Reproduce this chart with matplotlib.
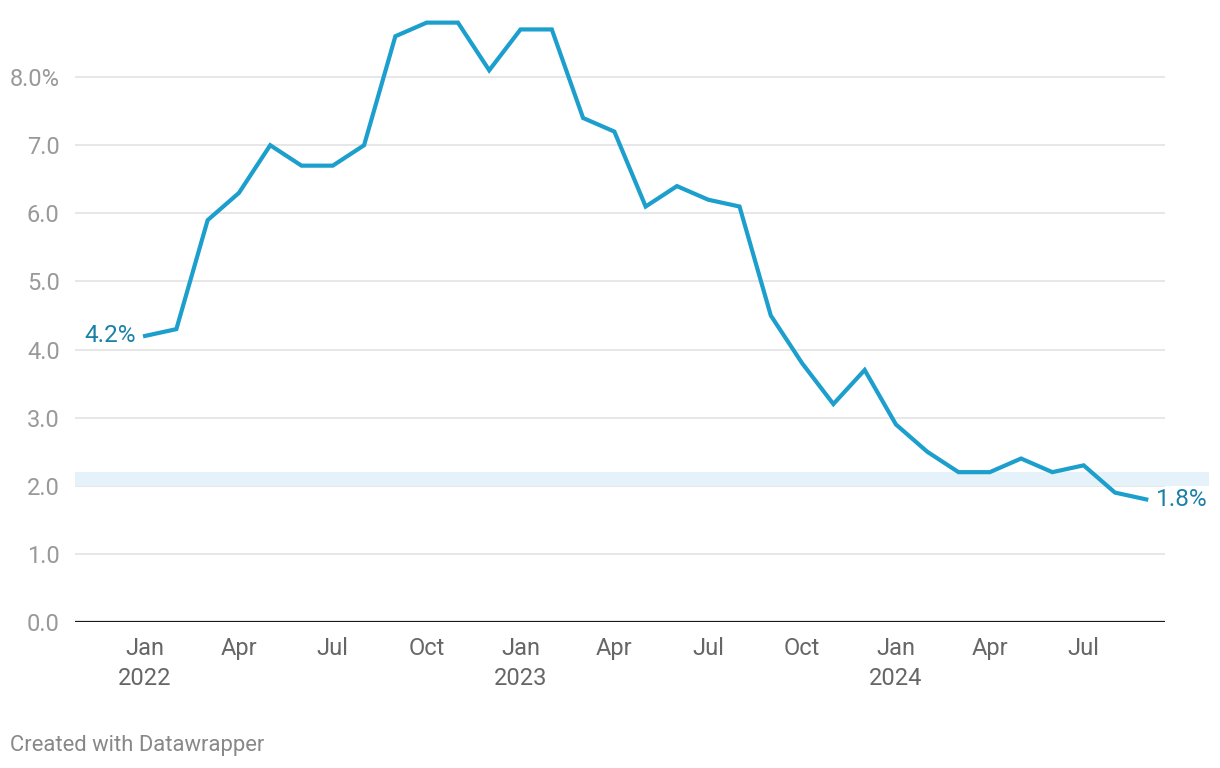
import matplotlib.pyplot as plt

plt.rcParams['font.family'] = ['Roboto', 'DejaVu Sans']

## Monthly values, Jan 2022 .. Sep 2024
months = list(range(33))
values = [4.2, 4.3, 5.9, 6.3, 7.0, 6.7, 6.7, 7.0, 8.6, 8.8, 8.8, 8.1,
          8.7, 8.7, 7.4, 7.2, 6.1, 6.4, 6.2, 6.1, 4.5, 3.8, 3.2, 3.7,
          2.9, 2.5, 2.2, 2.2, 2.4, 2.2, 2.3, 1.9, 1.8]
tick_pos = [0, 3, 6, 9, 12, 15, 18, 21, 24, 27, 30]
tick_labels = ['Jan\n2022', 'Apr', 'Jul', 'Oct', 'Jan\n2023', 'Apr', 'Jul',
               'Oct', 'Jan\n2024', 'Apr', 'Jul']
y_ticks = [0, 1, 2, 3, 4, 5, 6, 7, 8]
y_labels = ['0.0', '1.0', '2.0', '3.0', '4.0', '5.0', '6.0', '7.0', '8.0%']
band_low, band_high = 2.0, 2.2

line_color = '#1c9fcc'
label_color = '#1a80a8'

fig = plt.figure(figsize=(12.2, 7.68), dpi=100)
ax = fig.add_axes([75/1220, 146/768, 1090/1220, 613/768])

ax.set_xlim(-2.24, 32.6)
ax.set_ylim(0, 9.0)

# target band
ax.fill_between([-2.24, 34.0], band_low, band_high, color='#e5f2f9',
                zorder=1, clip_on=False, linewidth=0)

for y in y_ticks[1:]:
    ax.axhline(y, color='#e3e3e3', linewidth=1.2, zorder=0)
ax.axhline(0, color='#1a1a1a', linewidth=1.6, zorder=3)

ax.plot(months, values, color=line_color, linewidth=3, zorder=4,
        solid_joinstyle='miter')

ax.text(months[0] - 0.3, values[0], '4.2%', color=label_color, fontsize=17.5,
        ha='right', va='center')
ax.text(months[-1] + 0.3, values[-1], '1.8%', color=label_color, fontsize=17.5,
        ha='left', va='center')

ax.set_yticks(y_ticks)
ax.set_yticklabels(y_labels, color='#999999', fontsize=17)
ax.set_xticks(tick_pos)
ax.set_xticklabels(tick_labels, color='#666666', fontsize=17, linespacing=1.35)
ax.tick_params(axis='both', length=0)
ax.tick_params(axis='x', pad=11)
ax.tick_params(axis='y', pad=11)
for s in ax.spines.values():
    s.set_visible(False)

fig.text(10/1220, 1 - 745/768, 'Created with Datawrapper', color='#888888',
         fontsize=15.8, va='center')

fig.savefig('out.png', dpi=100)
